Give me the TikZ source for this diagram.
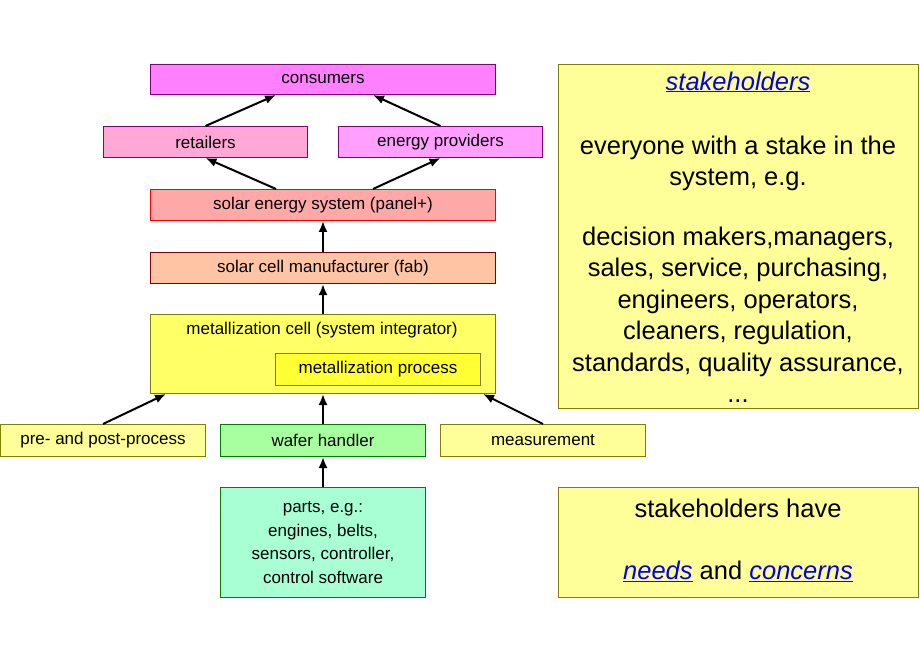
\documentclass[tikz,border=0pt]{standalone}
\usepackage{fontspec}
\setmainfont{Liberation Sans}
\usetikzlibrary{arrows.meta}
\definecolor{linkblue}{HTML}{0000EE}
\begin{document}
\begin{tikzpicture}[x=1pt,y=-1pt,
  box/.style={draw, line width=1pt, inner sep=0pt, anchor=north west, font=\fontsize{17}{21}\selectfont, align=center},
  arr/.style={line width=2pt, -{Latex[length=11pt,width=9pt]}},
  big/.style={font=\fontsize{25.5}{31.5}\selectfont, align=center}]
\useasboundingbox (0,0) rectangle (920,660);
\node[box, fill={rgb,255:red,255;green,128;blue,255}, draw={rgb,255:red,128;green,0;blue,128}, minimum width=345, minimum height=30] (cons) at (150,64) {consumers};
\node[box, fill={rgb,255:red,255;green,168;blue,214}, draw={rgb,255:red,128;green,0;blue,128}, minimum width=204, minimum height=31] (ret) at (103,126) {retailers};
\node[box, fill={rgb,255:red,255;green,160;blue,255}, draw={rgb,255:red,128;green,0;blue,128}, minimum width=204, minimum height=31] (ep) at (338,126) {energy providers};
\node[box, fill={rgb,255:red,255;green,168;blue,168}, draw=red, minimum width=345, minimum height=31] (ses) at (150,189) {solar energy system (panel+)};
\node[box, fill={rgb,255:red,255;green,196;blue,164}, draw={rgb,255:red,128;green,0;blue,0}, minimum width=345, minimum height=31] (scm) at (150,252) {solar cell manufacturer (fab)};
\node[box, fill={rgb,255:red,255;green,255;blue,102}, draw={rgb,255:red,128;green,128;blue,0}, minimum width=345, minimum height=79] (mc) at (150,314) {};
\node[font=\fontsize{17}{21}\selectfont, anchor=center] (mct) at (322,330) {metallization cell (system integrator)};
\node[box, fill={rgb,255:red,255;green,255;blue,51}, draw={rgb,255:red,128;green,128;blue,0}, minimum width=205, minimum height=32] (mp) at (275,353) {metallization process};
\node[box, fill={rgb,255:red,255;green,255;blue,153}, draw={rgb,255:red,128;green,128;blue,0}, minimum width=205, minimum height=32] (pp) at (0,424) {pre- and post-process};
\node[box, fill={rgb,255:red,168;green,255;blue,160}, draw={rgb,255:red,0;green,128;blue,0}, minimum width=205, minimum height=32] (wh) at (220,424) {wafer handler};
\node[box, fill={rgb,255:red,255;green,255;blue,153}, draw={rgb,255:red,128;green,128;blue,0}, minimum width=205, minimum height=32] (meas) at (440,424) {measurement};
\node[box, fill={rgb,255:red,168;green,255;blue,212}, draw={rgb,255:red,0;green,128;blue,0}, minimum width=205, minimum height=110, font=\fontsize{17}{23.5}\selectfont] (parts) at (220,487) {parts, e.g.:\\engines, belts,\\sensors, controller,\\control software};
\node[box, fill={rgb,255:red,255;green,255;blue,153}, draw={rgb,255:red,128;green,128;blue,0}, minimum width=360, minimum height=344] (sh) at (558,64) {};
\node[big, anchor=north] (sht) at (738,68) {\textcolor{linkblue}{\underline{\textit{stakeholders}}}};
\node[big, anchor=north] (sh1) at (738,132) {everyone with a stake in the\\system, e.g.};
\node[big, anchor=north] (sh2) at (738,223) {decision makers,managers,\\sales, service, purchasing,\\engineers, operators,\\cleaners, regulation,\\standards, quality assurance,\\...};
\node[box, fill={rgb,255:red,255;green,255;blue,153}, draw={rgb,255:red,128;green,128;blue,0}, minimum width=360, minimum height=110] (nc) at (558,487) {};
\node[big, anchor=center] (nc1) at (738,508) {stakeholders have};
\node[big, anchor=center] (nc2) at (738,571) {\textcolor{linkblue}{\underline{\textit{needs}}} and \textcolor{linkblue}{\underline{\textit{concerns}}}};
\draw[arr] (ret.north) -- ([xshift=-47pt]cons.south);
\draw[arr] (ep.north) -- ([xshift=50pt]cons.south);
\draw[arr] ([xshift=-47pt]ses.north) -- (ret.south);
\draw[arr] ([xshift=50pt]ses.north) -- (ep.south);
\draw[arr] (scm.north) -- (ses.south);
\draw[arr] (mc.north) -- (scm.south);
\draw[arr] (pp.north) -- ([xshift=-157pt]mc.south);
\draw[arr] (wh.north) -- (mc.south);
\draw[arr] (meas.north) -- ([xshift=160pt]mc.south);
\draw[arr] (parts.north) -- (wh.south);
\end{tikzpicture}
\end{document}
